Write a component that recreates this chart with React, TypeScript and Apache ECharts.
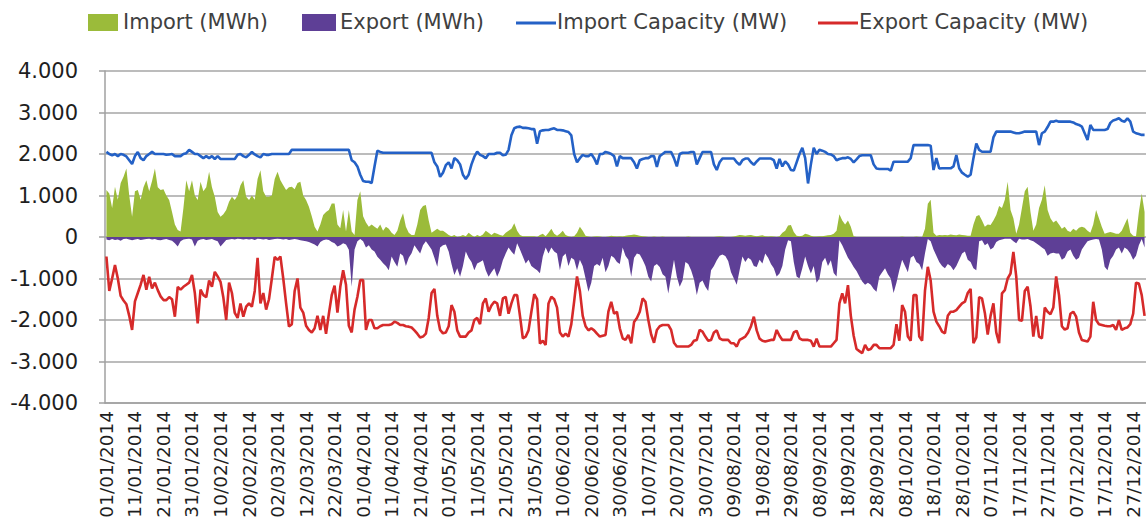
import React, { useEffect, useRef } from "react";
import * as echarts from "echarts";

// ---------- categories (one per day of 2014) ----------
const YEAR = 2014;
const dates: string[] = [];
for (let i = 0; i < 365; i++) {
  const d = new Date(Date.UTC(YEAR, 0, 1 + i));
  dates.push(
    `${String(d.getUTCDate()).padStart(2, "0")}/${String(d.getUTCMonth() + 1).padStart(2, "0")}/${YEAR}`
  );
}

const seriesNames = ["Import (MWh)", "Export (MWh)", "Import Capacity (MW)", "Export Capacity (MW)"];

// ---------- Import (MWh) ----------
const importMWh: number[] = [
  1130, 1050, 700, 1210, 900, 1300, 1450, 1650, 1000, 490,
  1100, 1130, 900, 1200, 1370, 1100, 1350, 1650, 1200, 1130,
  1150, 1000, 890, 600, 300, 170, 130, 700, 1370, 1100,
  1370, 1000, 890, 1330, 1100, 1200, 1570, 1200, 970, 600,
  490, 550, 650, 850, 970, 890, 1000, 1250, 1370, 970,
  890, 1000, 900, 1400, 1610, 1100, 970, 970, 1000, 1400,
  1570, 1370, 1250, 1130, 1200, 1210, 1150, 1300, 1330, 1000,
  890, 730, 500, 250, 130, 300, 530, 600, 650, 810,
  810, 300, 210, 650, 130, 650, 130, 50, 890, 1100,
  500, 350, 250, 300, 250, 200, 300, 150, 250, 200,
  100, 50, 150, 400, 570, 250, 100, 50, 50, 300,
  650, 750, 770, 400, 100, 150, 200, 150, 150, 100,
  50, 20, 50, 0, 20, 50, 20, 100, 50, 0,
  50, 20, 60, 150, 100, 50, 100, 80, 50, 30,
  100, 150, 200, 330, 150, 50, 20, 20, 20, 20,
  20, 0, 50, 80, 20, 100, 200, 80, 30, 80,
  150, 50, 20, 0, 20, 100, 250, 150, 30, 10,
  0, 10, 20, 10, 0, 0, 10, 30, 20, 10,
  20, 10, 30, 40, 50, 60, 50, 30, 20, 10,
  0, 0, 10, 0, 0, 10, 0, 0, 0, 0,
  0, 0, 0, 0, 10, 0, 0, 0, 0, 0,
  0, 0, 0, 0, 10, 20, 10, 0, 0, 0,
  10, 30, 50, 40, 30, 40, 50, 30, 20, 30,
  40, 20, 10, 20, 10, 0, 20, 100, 150, 280,
  290, 120, 30, 20, 30, 80, 60, 30, 10, 10,
  20, 20, 30, 40, 50, 80, 150, 550, 400, 300,
  400, 250, 20, 0, 0, 0, 0, 0, 0, 0,
  0, 0, 0, 0, 0, 0, 0, 0, 0, 10,
  0, 0, 0, 0, 10, 0, 0, 200, 800, 900,
  100, 30, 50, 40, 50, 40, 60, 50, 40, 60,
  50, 40, 30, 30, 300, 500, 530, 400, 250, 300,
  290, 400, 530, 750, 700, 900, 1330, 650, 450, 80,
  300, 700, 1100, 1210, 600, 150, 300, 700, 900, 1250,
  650, 450, 350, 400, 300, 200, 250, 150, 120, 200,
  150, 220, 250, 220, 150, 100, 300, 650, 450, 250,
  80, 100, 120, 100, 80, 80, 150, 300, 450, 100,
  30, 20, 600, 1050, 600,
];

// ---------- Export (MWh) ----------
const exportMWh: number[] = [
  -60, -80, -50, -70, -60, -90, -50, -40, -60, -80,
  -60, -50, -70, -60, -50, -40, -60, -50, -70, -80,
  -60, -50, -70, -90, -150, -230, -100, -60, -50, -40,
  -60, -230, -90, -60, -50, -70, -60, -50, -80, -100,
  -230, -150, -70, -60, -50, -60, -40, -50, -60, -50,
  -60, -50, -70, -40, -50, -60, -50, -70, -60, -50,
  -40, -50, -60, -50, -70, -60, -50, -60, -80, -90,
  -100, -120, -150, -180, -230, -120, -80, -60, -70, -120,
  -150, -230, -200, -150, -180, -310, -1200, -300, -100, -50,
  -100, -250, -200, -300, -350, -475, -550, -630, -700, -800,
  -470, -600, -715, -400, -450, -700, -500, -390, -200, -300,
  -400, -200, -100, -200, -300, -500, -715, -250, -200, -180,
  -350, -650, -915, -750, -955, -700, -350, -500, -600, -800,
  -640, -600, -560, -800, -955, -850, -750, -955, -800, -560,
  -400, -250, -350, -430, -150, -300, -470, -640, -550, -700,
  -750, -800, -875, -470, -250, -400, -250, -350, -400, -800,
  -470, -400, -700, -500, -550, -800, -550, -700, -1000, -1320,
  -1100, -700, -650, -700, -500, -850, -700, -450, -500, -600,
  -650, -250, -450, -550, -955, -500, -400, -420, -550, -700,
  -955, -1075, -700, -650, -720, -900, -960, -1360, -950, -550,
  -955, -1200, -1050, -600, -650, -800, -1020, -1400, -1100, -1050,
  -1200, -1300, -800, -700, -560, -450, -420, -460, -580, -850,
  -1000, -1150, -800, -470, -600, -500, -550, -700, -720, -550,
  -640, -400, -500, -650, -750, -950, -880, -700, -300, -80,
  -100, -600, -950, -1000, -750, -470, -700, -880, -700, -1100,
  -1000, -600, -500, -700, -560, -870, -950, -80, -200, -350,
  -500, -600, -720, -820, -950, -1075, -1150, -1100, -1150, -1250,
  -1320, -950, -850, -750, -900, -1000, -1350, -1100, -800, -550,
  -700, -850, -500, -450, -600, -650, -800, -400, -50, -100,
  -300, -450, -600, -700, -750, -650, -700, -800, -700, -550,
  -400, -350, -550, -600, -750, -800, -100, -80, -200, -150,
  -300, -250, -120, -80, -60, -40, -40, -40, -100, -150,
  -40, -60, -60, -50, -80, -100, -150, -200, -250, -300,
  -450, -400, -380, -400, -400, -550, -500, -350, -300, -450,
  -550, -500, -300, -200, -100, -80, -60, -50, -60, -300,
  -715, -800, -550, -450, -300, -250, -400, -250, -300, -400,
  -550, -450, -200, -50, -250,
];

// ---------- Import Capacity (MW) ----------
const importCapacity: number[] = [
  2050, 2000, 1970, 2000, 1950, 2000, 1980, 1940, 1850, 1760,
  1950, 2050, 1900, 1850, 1950, 2000, 2050, 2000, 2000, 2000,
  2000, 1980, 1990, 2000, 1950, 1950, 1950, 2000, 2020, 2100,
  2050, 2000, 2000, 1950, 1900, 1950, 1900, 1950, 1880, 1950,
  1880, 1880, 1880, 1880, 1880, 1880, 1980, 2000, 1950, 1920,
  1980, 2050, 1990, 1950, 1920, 2000, 1980, 1980, 2000, 2000,
  2000, 2000, 2000, 2000, 2000, 2100, 2100, 2100, 2100, 2100,
  2100, 2100, 2100, 2100, 2100, 2100, 2100, 2100, 2100, 2100,
  2100, 2100, 2100, 2100, 2100, 2100, 1850, 1800, 1700, 1500,
  1350, 1330, 1330, 1300, 1700, 2080, 2050, 2030, 2030, 2030,
  2030, 2030, 2030, 2030, 2030, 2030, 2030, 2030, 2030, 2030,
  2030, 2030, 2030, 2030, 2030, 1800, 1700, 1450, 1550, 1730,
  1800, 1650, 1900, 1850, 1750, 1500, 1400, 1500, 1750, 1935,
  2055, 1980, 1950, 1900, 2000, 2000, 2000, 2030, 2030, 1970,
  1980, 2100, 2450, 2620, 2650, 2660, 2630, 2630, 2620, 2600,
  2600, 2250, 2550, 2570, 2580, 2580, 2600, 2620, 2580, 2580,
  2570, 2550, 2530, 2450, 2000, 1800, 1900, 1980, 1950, 1950,
  2000, 1900, 1750, 2000, 2000, 2050, 2030, 2000, 1950, 1700,
  1950, 1900, 1900, 1900, 1900, 1800, 1650, 1850, 1880, 1900,
  1900, 1950, 1950, 1690, 1950, 2000, 2050, 2050, 2050, 1900,
  1700, 2000, 2030, 2030, 2030, 2050, 2050, 1750, 1900, 2050,
  2050, 2050, 2050, 1750, 1615, 1800, 1890, 1890, 1890, 1890,
  1890, 1800, 1740, 1850, 1890, 1890, 1800, 1740, 1820, 1890,
  1890, 1890, 1890, 1890, 1850, 1650, 1880, 1700, 1820, 1750,
  1615, 1600, 1800, 2000, 2150, 1900, 1290, 1750, 2150, 2000,
  2100, 2080, 2050, 2000, 1990, 1950, 1850, 1880, 1900, 1900,
  1920, 1880, 1800, 1870, 1950, 1970, 1970, 1970, 1970, 1750,
  1650, 1640, 1640, 1640, 1640, 1600, 1815, 1815, 1815, 1815,
  1815, 1815, 1900, 2215, 2215, 2215, 2215, 2215, 2215, 2200,
  1615, 1900, 1650, 1655, 1655, 1655, 1655, 1700, 1975, 1655,
  1550, 1500, 1455, 1500, 1900, 2255, 2100, 2055, 2055, 2055,
  2055, 2400, 2540, 2540, 2540, 2540, 2540, 2540, 2520, 2500,
  2500, 2520, 2540, 2540, 2540, 2540, 2540, 2215, 2500, 2540,
  2650, 2780, 2780, 2800, 2780, 2780, 2780, 2780, 2780, 2760,
  2720, 2700, 2660, 2500, 2340, 2700, 2580, 2580, 2580, 2580,
  2580, 2600, 2750, 2810, 2830, 2860, 2800, 2780, 2860, 2780,
  2540, 2500, 2480, 2460, 2460,
];

// ---------- Export Capacity (MW) ----------
const exportCapacity: number[] = [
  -470, -1300, -1000, -675, -1000, -1420, -1530, -1620, -1900, -2240,
  -1550, -1350, -1150, -915, -1270, -960, -1240, -1100, -1280, -1430,
  -1520, -1520, -1450, -1500, -1920, -1200, -1270, -1200, -1150, -1100,
  -915, -1350, -2080, -1270, -1400, -1450, -1050, -1200, -840, -950,
  -1080, -1460, -2000, -1100, -1350, -1830, -1950, -1600, -1920, -1680,
  -1600, -1680, -1300, -500, -1600, -1350, -1750, -1500, -1000, -480,
  -550, -470, -1000, -1600, -2160, -2100, -1300, -1000, -1700, -1820,
  -2140, -2240, -2300, -2200, -1900, -2240, -1900, -2330, -1850, -1400,
  -1170, -1820, -1200, -800, -1150, -2140, -2300, -1750, -1440, -1035,
  -1040, -2240, -2000, -2000, -2200, -2200, -2150, -2120, -2120, -2120,
  -2100, -2040, -2070, -2120, -2120, -2150, -2160, -2180, -2250, -2330,
  -2420, -2400, -2330, -1950, -1350, -1250, -1900, -2240, -2320, -2300,
  -2150, -1640, -1800, -2250, -2400, -2400, -2400, -2300, -2250, -2000,
  -1950, -2100, -1600, -1480, -1800, -1650, -1560, -1600, -1900, -1480,
  -1440, -1850, -1600, -1400, -1400, -1900, -2440, -2400, -2250, -1800,
  -1380, -1500, -2570, -2500, -2600, -1600, -1440, -1500, -1700, -2300,
  -2400, -2330, -2400, -2100, -1550, -950, -1300, -1900, -2150, -2250,
  -2200, -2250, -2330, -2400, -2380, -2360, -1800, -1560, -1850, -1800,
  -2200, -2440, -2480, -2360, -2560, -2050, -1950, -1800, -1480, -1560,
  -2000, -2350, -2550, -2240, -2150, -2120, -2120, -2120, -2240, -2550,
  -2640, -2640, -2640, -2640, -2640, -2600, -2500, -2480, -2240, -2280,
  -2400, -2500, -2480, -2300, -2250, -2440, -2480, -2480, -2480, -2560,
  -2560, -2640, -2480, -2440, -2400, -2300, -2150, -1920, -2250, -2450,
  -2500, -2520, -2500, -2480, -2480, -2240, -2380, -2480, -2480, -2480,
  -2480, -2300, -2260, -2440, -2480, -2480, -2480, -2500, -2640, -2450,
  -2640, -2640, -2640, -2640, -2640, -2560, -2480, -1600, -1360, -1600,
  -1160, -1900, -2380, -2700, -2750, -2800, -2600, -2720, -2700, -2600,
  -2600, -2680, -2680, -2680, -2680, -2680, -2600, -2100, -2500, -1640,
  -1800, -2400, -2500, -1400, -1400, -2400, -2500, -1300, -720, -1050,
  -1800, -2040, -2150, -2280, -2320, -1900, -1800, -1800, -1760, -1680,
  -1600, -1560, -1350, -1250, -2560, -2420, -1450, -1480, -1830, -2350,
  -1900, -1600, -2300, -2560, -1360, -1280, -1000, -880, -360, -950,
  -2000, -2020, -1300, -1200, -1670, -2400, -1900, -2400, -2440, -1700,
  -1800, -1860, -1700, -950, -1400, -2150, -2230, -2200, -1850, -1800,
  -1920, -2300, -2480, -2500, -2520, -2400, -1560, -2000, -2100, -2120,
  -2140, -2150, -2150, -2120, -2240, -2000, -2240, -2200, -2180, -2100,
  -1850, -1100, -1120, -1400, -1900,
];

const COLORS = ["#9BBB3A", "#5E3F96", "#2461C6", "#D62A2A"];
const FONT = "'DejaVu Sans', Verdana, sans-serif";

function fmtY(v: number): string {
  if (v === 0) return "0";
  const abs = Math.abs(v);
  const s = abs >= 1000 ? `${Math.floor(abs / 1000)}.${String(abs % 1000).padStart(3, "0")}` : String(abs);
  return (v < 0 ? "-" : "") + s;
}

export default function App() {
  const ref = useRef<HTMLDivElement>(null);

  useEffect(() => {
    if (!ref.current) return;
    const chart = echarts.init(ref.current, undefined, { renderer: "svg" });

    const legendY = 22;
    const textStyle = { fill: "#404040", font: `21px ${FONT}`, verticalAlign: "middle" as const };

    chart.setOption({
      animation: false,
      backgroundColor: "#ffffff",
      grid: { left: 105, top: 71, width: 1042, height: 332, containLabel: false },
      xAxis: {
        type: "category",
        data: dates,
        boundaryGap: true,
        axisLine: { show: true, onZero: false, lineStyle: { color: "#a0a0a0", width: 1.5 } },
        axisTick: { show: false },
        axisLabel: {
          interval: 9,
          rotate: 90,
          margin: 8,
          color: "#1e1e1e",
          fontSize: 18.5,
          fontFamily: FONT,
        },
        splitLine: { show: false },
      },
      yAxis: {
        type: "value",
        min: -4000,
        max: 4000,
        interval: 1000,
        axisLine: { show: true, lineStyle: { color: "#a0a0a0", width: 1.5 } },
        axisTick: { show: true, length: 6, lineStyle: { color: "#a0a0a0", width: 1.5 } },
        axisLabel: {
          margin: 27,
          color: "#1e1e1e",
          fontSize: 21,
          fontFamily: FONT,
          formatter: (v: number) => fmtY(v),
        },
        splitLine: { show: true, lineStyle: { color: "#a6a6a6", width: 1.5 } },
      },
      graphic: [
        { type: "rect", shape: { x: 88, y: 14, width: 30, height: 17 }, style: { fill: COLORS[0] } },
        { type: "text", x: 123, y: legendY, style: { ...textStyle, text: seriesNames[0] } },
        { type: "rect", shape: { x: 302, y: 14, width: 34, height: 17 }, style: { fill: COLORS[1] } },
        { type: "text", x: 340, y: legendY, style: { ...textStyle, text: seriesNames[1] } },
        {
          type: "line",
          shape: { x1: 516, y1: legendY + 1, x2: 556, y2: legendY + 1 },
          style: { stroke: COLORS[2], lineWidth: 3 },
        },
        { type: "text", x: 557, y: legendY, style: { ...textStyle, text: seriesNames[2] } },
        {
          type: "line",
          shape: { x1: 818, y1: legendY + 1, x2: 858, y2: legendY + 1 },
          style: { stroke: COLORS[3], lineWidth: 3 },
        },
        { type: "text", x: 859, y: legendY, style: { ...textStyle, text: seriesNames[3] } },
      ],
      series: [
        {
          name: seriesNames[0],
          type: "line",
          data: importMWh,
          symbol: "none",
          lineStyle: { width: 0 },
          areaStyle: { color: COLORS[0], opacity: 1 },
          itemStyle: { color: COLORS[0] },
        },
        {
          name: seriesNames[1],
          type: "line",
          data: exportMWh,
          symbol: "none",
          lineStyle: { width: 0 },
          areaStyle: { color: COLORS[1], opacity: 1 },
          itemStyle: { color: COLORS[1] },
        },
        {
          name: seriesNames[2],
          type: "line",
          data: importCapacity,
          symbol: "none",
          lineStyle: { color: COLORS[2], width: 2.6 },
          itemStyle: { color: COLORS[2] },
        },
        {
          name: seriesNames[3],
          type: "line",
          data: exportCapacity,
          symbol: "none",
          lineStyle: { color: COLORS[3], width: 2.6 },
          itemStyle: { color: COLORS[3] },
        },
      ],
    });

    return () => chart.dispose();
  }, []);

  return (
    <div
      ref={ref}
      style={{ position: "absolute", left: 0, top: 0, width: 1146, height: 526, background: "#fff" }}
    />
  );
}
